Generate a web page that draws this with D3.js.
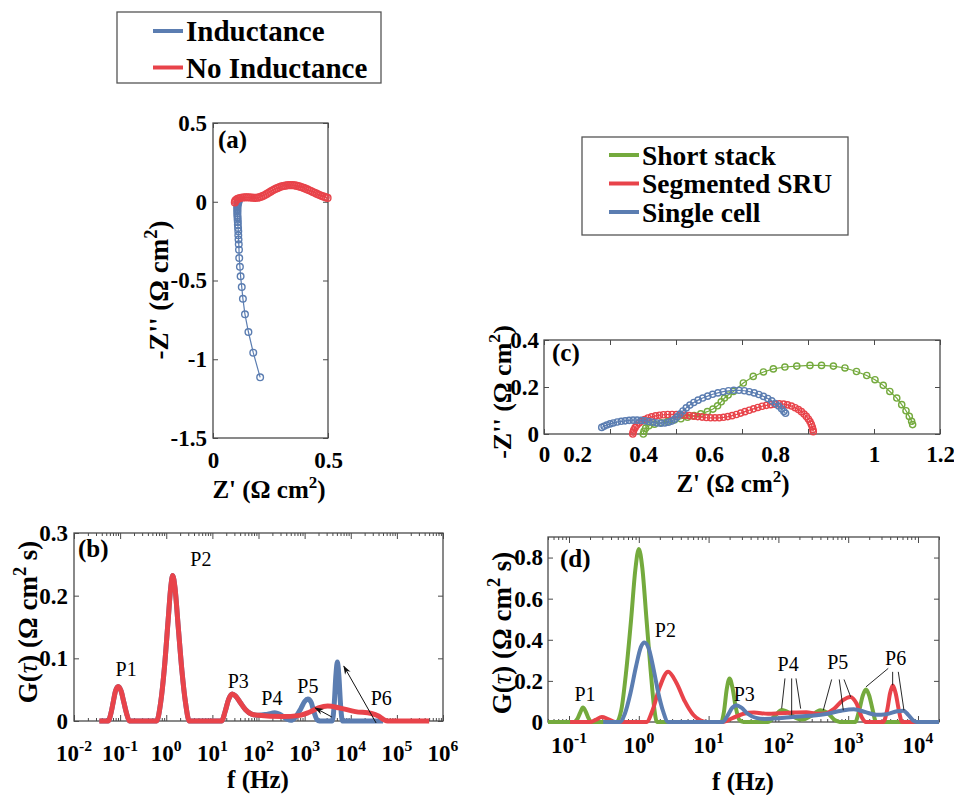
<!DOCTYPE html>
<html>
<head>
<meta charset="utf-8">
<script src="https://cdn.jsdelivr.net/npm/d3@7"></script>
<style>
  body { margin: 0; background: #fff; }
  text { font-family: "Liberation Serif", "Times New Roman", serif; }
</style>
</head>
<body>
<script>
// Colours of the three/two series
const blueC = "#5b7db1", redC = "#e8434a", greenC = "#74aa3d";
const serif = "'Liberation Serif', 'Times New Roman', serif";

// ---------- (a) Nyquist, inductance vs no inductance  [Z', -Z''] ----------
const aTicksX = [0, 0.5];
const aTicksY = [-1.5, -1, -0.5, 0, 0.5];
const aInductance = [[0.112,0.004],[0.110,-0.004],[0.108,-0.012],[0.107,-0.02],[0.106,-0.028],[0.106,-0.036],
  [0.106,-0.045],[0.106,-0.054],[0.106,-0.064],[0.106,-0.075],[0.106,-0.087],[0.107,-0.1],[0.107,-0.114],
  [0.108,-0.129],[0.108,-0.146],[0.109,-0.166],[0.110,-0.188],[0.110,-0.213],[0.111,-0.24],[0.112,-0.27],
  [0.113,-0.304],[0.114,-0.357],[0.117,-0.413],[0.120,-0.473],[0.125,-0.542],[0.130,-0.616],[0.139,-0.715],
  [0.154,-0.827],[0.175,-0.958],[0.205,-1.115]];
const aNoInductance = [[0.095,-0.004],[0.097,0.005],[0.101,0.012],[0.107,0.018],[0.114,0.022],[0.122,0.025],
  [0.13,0.027],[0.138,0.028],[0.146,0.028],[0.154,0.028],[0.162,0.027],[0.17,0.026],[0.178,0.025],[0.186,0.025],
  [0.194,0.026],[0.202,0.028],[0.21,0.032],[0.218,0.037],[0.226,0.043],[0.234,0.05],[0.242,0.057],[0.25,0.064],
  [0.258,0.071],[0.266,0.077],[0.274,0.083],[0.282,0.088],[0.29,0.093],[0.298,0.097],[0.306,0.1],[0.314,0.102],
  [0.322,0.104],[0.33,0.105],[0.338,0.105],[0.346,0.105],[0.354,0.104],[0.362,0.102],[0.37,0.099],[0.378,0.096],
  [0.386,0.092],[0.394,0.088],[0.402,0.083],[0.41,0.078],[0.418,0.073],[0.426,0.068],[0.434,0.062],[0.442,0.057],
  [0.45,0.051],[0.458,0.046],[0.466,0.041],[0.474,0.036],[0.482,0.032],[0.49,0.028],[0.498,0.024]];

// ---------- (c) Nyquist of the three set-ups ----------
const cTicksX = [0, 0.2, 0.4, 0.6, 0.8, 1, 1.2];
const cTicksY = [0, 0.2, 0.4];
const cShortStack = [[0.301,0],[0.303,0.012],[0.308,0.025],[0.318,0.035],[0.335,0.042],[0.355,0.048],
  [0.375,0.054],[0.395,0.06],[0.415,0.065],[0.435,0.071],[0.455,0.078],[0.475,0.086],[0.495,0.095],
  [0.512,0.106],[0.526,0.12],[0.537,0.137],[0.547,0.153],[0.558,0.166],[0.574,0.181],[0.604,0.217],
  [0.634,0.245],[0.665,0.264],[0.695,0.277],[0.730,0.285],[0.766,0.289],[0.806,0.292],[0.841,0.292],
  [0.877,0.289],[0.912,0.281],[0.947,0.266],[0.978,0.249],[1.003,0.231],[1.028,0.207],[1.048,0.181],
  [1.069,0.153],[1.084,0.125],[1.097,0.099],[1.107,0.075],[1.114,0.054],[1.117,0.04]];
const cSegmented = [[0.269,0],[0.270,0.008],[0.272,0.017],[0.276,0.027],[0.281,0.037],[0.288,0.047],
  [0.296,0.055],[0.305,0.062],[0.315,0.068],[0.326,0.073],[0.338,0.077],[0.350,0.080],[0.362,0.082],
  [0.375,0.083],[0.388,0.083],[0.401,0.083],[0.414,0.082],[0.427,0.080],[0.440,0.078],[0.453,0.076],
  [0.466,0.074],[0.479,0.072],[0.492,0.070],[0.505,0.069],[0.518,0.069],[0.531,0.069],[0.544,0.071],
  [0.557,0.074],[0.570,0.078],[0.583,0.083],[0.596,0.089],[0.609,0.095],[0.622,0.101],[0.635,0.107],
  [0.648,0.113],[0.661,0.118],[0.674,0.122],[0.687,0.125],[0.700,0.127],[0.713,0.128],[0.726,0.127],
  [0.738,0.124],[0.750,0.119],[0.761,0.112],[0.771,0.104],[0.780,0.095],[0.788,0.085],[0.795,0.075],
  [0.801,0.064],[0.806,0.053],[0.810,0.041],[0.813,0.030],[0.815,0.019],[0.816,0.010]];
const cSingleCell = [[0.175,0.028],[0.182,0.033],[0.19,0.038],[0.2,0.043],[0.21,0.047],[0.222,0.051],
  [0.234,0.054],[0.246,0.056],[0.258,0.058],[0.27,0.059],[0.282,0.059],[0.294,0.058],[0.306,0.056],
  [0.318,0.053],[0.33,0.05],[0.342,0.047],[0.354,0.046],[0.366,0.047],[0.377,0.05],[0.387,0.055],
  [0.396,0.063],[0.404,0.073],[0.412,0.085],[0.421,0.098],[0.431,0.111],[0.442,0.123],[0.454,0.134],
  [0.467,0.144],[0.481,0.153],[0.496,0.161],[0.511,0.169],[0.527,0.175],[0.543,0.180],[0.559,0.184],
  [0.575,0.186],[0.591,0.186],[0.607,0.184],[0.622,0.180],[0.637,0.175],[0.651,0.168],[0.665,0.160],
  [0.678,0.151],[0.69,0.141],[0.701,0.130],[0.711,0.119],[0.72,0.107],[0.727,0.096],[0.732,0.088]];

// ---------- (b) DRT, inductance vs no inductance  [log10 f, G] ----------
const bTicksY = [0, 0.1, 0.2, 0.3];
const bDecades = [-2, -1, 0, 1, 2, 3, 4, 5, 6];
const bNoInductance = [[-1.45,0],[-1.26,0],[-1.2,0.012],[-1.15,0.03],[-1.1,0.048],[-1.04,0.055],[-0.98,0.048],
  [-0.92,0.03],[-0.86,0.012],[-0.8,0],[-0.21,0],[-0.12,0.03],[-0.04,0.085],[0.04,0.16],[0.1,0.215],[0.14,0.232],
  [0.19,0.212],[0.26,0.15],[0.34,0.08],[0.42,0.028],[0.5,0],[1.2,0],[1.28,0.016],[1.35,0.034],[1.43,0.043],
  [1.5,0.04],[1.6,0.03],[1.72,0.018],[1.85,0.011],[2.0,0.009],[2.5,0.007],[2.9,0.009],[3.1,0.014],[3.3,0.021],
  [3.5,0.024],[3.75,0.021],[4.1,0.015],[4.45,0.012],[4.6,0.008],[4.72,0.002],[4.8,0],[5.7,0]];
const bInductance = [[-1.45,0],[-1.26,0],[-1.2,0.012],[-1.15,0.03],[-1.1,0.048],[-1.04,0.055],[-0.98,0.048],
  [-0.92,0.03],[-0.86,0.012],[-0.8,0],[-0.21,0],[-0.12,0.03],[-0.04,0.085],[0.04,0.16],[0.1,0.215],[0.14,0.232],
  [0.19,0.212],[0.26,0.15],[0.34,0.08],[0.42,0.028],[0.5,0],[1.2,0],[1.28,0.016],[1.35,0.034],[1.43,0.043],
  [1.5,0.04],[1.6,0.03],[1.72,0.018],[1.85,0.011],[2.0,0.009],[2.2,0.011],[2.35,0.013],[2.5,0.009],[2.62,0.003],
  [2.7,0.001],[2.8,0.006],[2.92,0.02],[3.0,0.031],[3.07,0.035],[3.14,0.03],[3.2,0.015],[3.27,0.002],[3.32,0],
  [3.6,0],[3.64,0.025],[3.68,0.075],[3.71,0.094],[3.74,0.075],[3.78,0.025],[3.82,0],[4.7,0]];
const bPeaks = [["P1",-0.87,0.072],["P2",0.75,0.248],["P3",1.56,0.052],["P4",2.29,0.025],["P5",3.07,0.044],["P6",4.66,0.025]];
const bArrows = [[3.59,0.0064,3.23,0.0208],[4.55,-0.0032,3.85,0.0875]];   // from -> to

// ---------- (d) DRT of the three set-ups  [log10 f, G] ----------
const dTicksY = [0, 0.2, 0.4, 0.6, 0.8];
const dDecades = [-1, 0, 1, 2, 3, 4];
const dShortStack = [[-1.301,0],[-0.93,0],[-0.88,0.015],[-0.84,0.045],[-0.8,0.07],[-0.76,0.05],[-0.72,0.018],
  [-0.68,0],[-0.32,0],[-0.25,0.06],[-0.18,0.25],[-0.11,0.5],[-0.05,0.74],[0.0,0.842],[0.05,0.75],[0.11,0.5],
  [0.17,0.25],[0.22,0.07],[0.26,0],[1.18,0],[1.22,0.05],[1.26,0.16],[1.3,0.212],[1.34,0.17],[1.39,0.07],
  [1.44,0.01],[1.5,0],[1.85,0],[1.95,0.03],[2.05,0.058],[2.15,0.045],[2.25,0.02],[2.35,0.012],[2.47,0.03],
  [2.6,0.057],[2.7,0.045],[2.8,0.012],[2.88,0],[3.1,0],[3.16,0.06],[3.21,0.13],[3.255,0.158],[3.3,0.13],
  [3.35,0.06],[3.4,0],[4.301,0]];
const dSegmented = [[-0.985,0],[-0.7,0],[-0.62,0.01],[-0.53,0.024],[-0.44,0.014],[-0.34,0],[0.11,0],[0.2,0.06],
  [0.3,0.17],[0.42,0.244],[0.54,0.19],[0.66,0.1],[0.78,0.035],[0.88,0.008],[0.96,0],[1.2,0],[1.35,0.02],
  [1.5,0.04],[1.65,0.046],[1.85,0.04],[2.0,0.042],[2.2,0.046],[2.4,0.048],[2.55,0.04],[2.68,0.042],[2.8,0.065],
  [2.92,0.105],[3.03,0.122],[3.12,0.09],[3.2,0.02],[3.25,0],[3.5,0],[3.56,0.06],[3.6,0.14],[3.64,0.178],
  [3.68,0.14],[3.73,0.05],[3.77,0],[3.98,0]];
const dSingleCell = [[-0.51,0],[-0.27,0],[-0.2,0.04],[-0.12,0.14],[-0.04,0.27],[0.03,0.365],[0.08,0.387],
  [0.14,0.36],[0.21,0.26],[0.28,0.14],[0.35,0.05],[0.42,0],[1.2,0],[1.27,0.03],[1.34,0.07],[1.4,0.082],
  [1.47,0.07],[1.56,0.04],[1.68,0.02],[1.8,0.015],[2.0,0.018],[2.2,0.024],[2.45,0.03],[2.7,0.04],[2.9,0.055],
  [3.08,0.062],[3.25,0.048],[3.4,0.035],[3.55,0.038],[3.7,0.052],[3.79,0.055],[3.86,0.035],[3.93,0.008],
  [3.98,0],[4.301,0]];
const dPeaks = [["P1",-0.77,0.101],["P2",0.38,0.413],["P3",1.51,0.101],["P4",2.14,0.247],["P5",2.85,0.257],["P6",3.68,0.277]];
// leader lines from the P4..P6 labels down to their peaks
const dLeaders = [[2.094,0.212,2.047,0.066],[2.19,0.212,2.19,0.033],[2.252,0.212,2.319,0.065],
  [2.763,0.207,2.643,0.057],[2.872,0.207,2.93,0.057],[2.94,0.207,3.036,0.122],
  [3.574,0.261,3.255,0.171],[3.637,0.244,3.637,0.179],[3.718,0.244,3.799,0.057]];

// Legends
const legendA = [["Inductance", blueC], ["No Inductance", redC]];
const legendC = [["Short stack", greenC], ["Segmented SRU", redC], ["Single cell", blueC]];


var svg = d3.select("body").append("svg")
    .attr("width", 954)
    .attr("height", 795)
    .attr("font-family", serif);

svg.append("defs").append("marker")
    .attr("id", "arrow")
    .attr("viewBox", "0 0 10 10")
    .attr("refX", 9).attr("refY", 5)
    .attr("markerWidth", 9).attr("markerHeight", 9)
    .attr("orient", "auto")
  .append("path")
    .attr("d", "M0,1.5 L10,5 L0,8.5 L3,5 Z")
    .attr("fill", "#111");

const frameC = "#4a4a4a";

function styleAxis(sel, size) {
    sel.attr("font-family", serif);
    sel.select(".domain").remove();
    sel.selectAll(".tick line").attr("stroke", frameC);
    sel.selectAll(".tick text")
        .attr("font-family", serif)
        .attr("font-size", size)
        .attr("font-weight", "bold")
        .attr("fill", "#000");
}

function frame(g, box) {
    g.append("rect")
        .attr("x", box.l).attr("y", box.t)
        .attr("width", box.r - box.l).attr("height", box.b - box.t)
        .attr("fill", "none").attr("stroke", frameC).attr("stroke-width", 1.3);
}

// label text made of parts, ["2","sup"] is raised
function richText(g, x, y, rot, parts, size, anchor) {
    var t = g.append("text")
        .attr("transform", `translate(${x},${y}) rotate(${rot})`)
        .attr("text-anchor", anchor || "middle")
        .attr("font-family", serif)
        .attr("font-weight", "bold")
        .attr("font-size", size);
    var raised = false;
    parts.forEach(p => {
        var s = t.append("tspan").text(p[0]);
        if (p[1] == "sup") {
            s.attr("dy", -size * 0.42).attr("font-size", size * 0.68);
            raised = true;
        } else {
            if (raised) { s.attr("dy", size * 0.42); raised = false; }
            if (p[1] == "it") s.attr("font-style", "italic").attr("font-weight", "normal");
        }
    });
    return t;
}

function linearPanel(box, xDom, yDom, xTicks, yTicks, padX, padY) {
    var x = d3.scaleLinear().domain(xDom).range([box.l, box.r]);
    var y = d3.scaleLinear().domain(yDom).range([box.b, box.t]);
    var g = svg.append("g");
    var gx = g.append("g").attr("class", "x axis")
        .attr("transform", `translate(0,${box.b})`)
        .call(d3.axisBottom(x).tickValues(xTicks).tickSizeInner(-5).tickSizeOuter(0)
            .tickPadding(padX).tickFormat(d => String(d)));
    styleAxis(gx, 23);
    var gy = g.append("g").attr("class", "y axis")
        .attr("transform", `translate(${box.l},0)`)
        .call(d3.axisLeft(y).tickValues(yTicks).tickSizeInner(-5).tickSizeOuter(0)
            .tickPadding(padY).tickFormat(d => String(d)));
    styleAxis(gy, 23);
    styleAxis(g.append("g").attr("transform", `translate(0,${box.t})`)
        .call(d3.axisTop(x).tickValues(xTicks).tickSizeInner(-5).tickSizeOuter(0).tickFormat("")), 23);
    styleAxis(g.append("g").attr("transform", `translate(${box.r},0)`)
        .call(d3.axisRight(y).tickValues(yTicks).tickSizeInner(-5).tickSizeOuter(0).tickFormat("")), 23);
    frame(g, box);
    return {g: g, x: x, y: y, gx: gx};
}

function logPanel(box, xDom, yDom, decades, yTicks, labelBase, padY) {
    var x = d3.scaleLog().domain(xDom).range([box.l, box.r]);
    var y = d3.scaleLinear().domain(yDom).range([box.b, box.t]);
    var g = svg.append("g");
    var major = decades.map(k => Math.pow(10, k));
    var minor = x.ticks().filter(v => Math.abs(Math.log10(v) - Math.round(Math.log10(v))) > 1e-6);

    [[d3.axisBottom, box.b], [d3.axisTop, box.t]].forEach(a => {
        styleAxis(g.append("g").attr("transform", `translate(0,${a[1]})`)
            .call(a[0](x).tickValues(major).tickSizeInner(-6).tickSizeOuter(0).tickFormat("")), 23);
        styleAxis(g.append("g").attr("transform", `translate(0,${a[1]})`)
            .call(a[0](x).tickValues(minor).tickSizeInner(-3).tickSizeOuter(0).tickFormat("")), 23);
    });
    var gy = g.append("g").attr("transform", `translate(${box.l},0)`)
        .call(d3.axisLeft(y).tickValues(yTicks).tickSizeInner(-5).tickSizeOuter(0)
            .tickPadding(padY).tickFormat(d => String(d)));
    styleAxis(gy, 23);
    styleAxis(g.append("g").attr("transform", `translate(${box.r},0)`)
        .call(d3.axisRight(y).tickValues(yTicks).tickSizeInner(-5).tickSizeOuter(0).tickFormat("")), 23);

    // 10^k tick labels
    decades.forEach(k => {
        richText(g, x(Math.pow(10, k)), labelBase, 0, [["10"], [String(k), "sup"]], 23);
    });
    frame(g, box);
    return {g: g, x: x, y: y};
}

function nyquist(p, pts, color, r) {
    p.g.append("path").datum(pts)
        .attr("fill", "none").attr("stroke", color).attr("stroke-width", 1.2)
        .attr("d", d3.line().x(d => p.x(d[0])).y(d => p.y(d[1])));
    p.g.append("g").selectAll("circle").data(pts)
        .enter().append("circle")
        .attr("cx", d => p.x(d[0])).attr("cy", d => p.y(d[1]))
        .attr("r", r).attr("fill", "none")
        .attr("stroke", color).attr("stroke-width", 1.4);
}

function drt(p, pts, color, w) {
    p.g.append("path").datum(pts)
        .attr("fill", "none").attr("stroke", color).attr("stroke-width", w)
        .attr("stroke-linejoin", "round")
        .attr("d", d3.line().curve(d3.curveMonotoneX)
            .x(d => p.x(Math.pow(10, d[0]))).y(d => p.y(d[1])));
}

function peakLabels(p, peaks) {
    p.g.selectAll(null).data(peaks).enter().append("text")
        .attr("x", d => p.x(Math.pow(10, d[1])))
        .attr("y", d => p.y(d[2]))
        .attr("text-anchor", "middle")
        .attr("font-family", serif)
        .attr("font-size", 20)
        .text(d => d[0]);
}

function legend(box, items, lineY, textX, size) {
    svg.append("rect")
        .attr("x", box.l).attr("y", box.t)
        .attr("width", box.r - box.l).attr("height", box.b - box.t)
        .attr("fill", "#fff").attr("stroke", "#555").attr("stroke-width", 1.3);
    items.forEach((it, i) => {
        svg.append("line")
            .attr("x1", textX - 33).attr("x2", textX - 3)
            .attr("y1", lineY[i]).attr("y2", lineY[i])
            .attr("stroke", it[1]).attr("stroke-width", 4);
        svg.append("text")
            .attr("x", textX).attr("y", lineY[i]).attr("dy", "0.36em")
            .attr("font-family", serif)
            .attr("font-size", size).attr("font-weight", "bold")
            .text(it[0]);
    });
}

// ---------------- Panel (a) ----------------
var pa = linearPanel({l: 213, r: 328, t: 123, b: 438}, [0, 0.5], [-1.5, 0.5], aTicksX, aTicksY, 14, 6);
nyquist(pa, aInductance, blueC, 3.3);
nyquist(pa, aNoInductance, redC, 3.4);
pa.g.append("text").attr("x", 218).attr("y", 148).attr("font-size", 25).attr("font-weight", "bold").text("(a)");
richText(pa.g, 168, 290, -90, [["-Z'' (\u03A9 cm"], ["2", "sup"], [")"]], 27);
richText(pa.g, 269, 498, 0, [["Z' (\u03A9 cm"], ["2", "sup"], [")"]], 25);

// ---------------- Panel (c) ----------------
var pc = linearPanel({l: 544, r: 940, t: 340, b: 434}, [0, 1.2], [0, 0.4], cTicksX, cTicksY, 12, 5);
// in the source figure the 0.2 to 0.8 labels sit left of their ticks
pc.gx.selectAll(".tick text").filter(d => d > 0 && d < 1).attr("dx", -33);
nyquist(pc, cShortStack, greenC, 3.1);
nyquist(pc, cSegmented, redC, 3.1);
nyquist(pc, cSingleCell, blueC, 3.1);
pc.g.append("text").attr("x", 552).attr("y", 361).attr("font-size", 25).attr("font-weight", "bold").text("(c)");
richText(pc.g, 511, 392, -90, [["-Z'' (\u03A9 cm"], ["2", "sup"], [")"]], 26);
richText(pc.g, 733, 492, 0, [["Z' (\u03A9 cm"], ["2", "sup"], [")"]], 25);

// ---------------- Panel (b) ----------------
var pb = logPanel({l: 74, r: 443, t: 533, b: 721}, [1e-2, 1e6], [0, 0.3], bDecades, bTicksY, 761, 6);
drt(pb, bInductance, blueC, 5);
drt(pb, bNoInductance, redC, 5);
peakLabels(pb, bPeaks);
bArrows.forEach(a => {
    pb.g.append("line")
        .attr("x1", pb.x(Math.pow(10, a[0]))).attr("y1", pb.y(a[1]))
        .attr("x2", pb.x(Math.pow(10, a[2]))).attr("y2", pb.y(a[3]))
        .attr("stroke", "#111").attr("stroke-width", 1)
        .attr("marker-end", "url(#arrow)");
});
pb.g.append("text").attr("x", 78).attr("y", 557).attr("font-size", 25).attr("font-weight", "bold").text("(b)");
richText(pb.g, 37, 622, -90, [["G("], ["\u03C4", "it"], [") (\u03A9 cm"], ["2", "sup"], [" s)"]], 27);
richText(pb.g, 258, 788, 0, [["f (Hz)"]], 25);

// ---------------- Panel (d) ----------------
var pd = logPanel({l: 548, r: 939, t: 537, b: 722}, [0.05, 2e4], [0, 0.9], dDecades, dTicksY, 753, 5);
drt(pd, dShortStack, greenC, 4);
drt(pd, dSegmented, redC, 4);
drt(pd, dSingleCell, blueC, 4);
peakLabels(pd, dPeaks);
dLeaders.forEach(a => {
    pd.g.append("line")
        .attr("x1", pd.x(Math.pow(10, a[0]))).attr("y1", pd.y(a[1]))
        .attr("x2", pd.x(Math.pow(10, a[2]))).attr("y2", pd.y(a[3]))
        .attr("stroke", "#111").attr("stroke-width", 0.9);
});
pd.g.append("text").attr("x", 560).attr("y", 567).attr("font-size", 25).attr("font-weight", "bold").text("(d)");
richText(pd.g, 511, 633, -90, [["G("], ["\u03C4", "it"], [") (\u03A9 cm"], ["2", "sup"], [" s)"]], 27);
richText(pd.g, 743, 790, 0, [["f (Hz)"]], 25);

// ---------------- Legends ----------------
legend({l: 117, r: 381, t: 12, b: 83}, legendA, [31, 67.5], 186, 29);
legend({l: 582, r: 848, t: 137, b: 235}, legendC, [155, 183.5, 212], 642, 27.5);
</script>
</body>
</html>
